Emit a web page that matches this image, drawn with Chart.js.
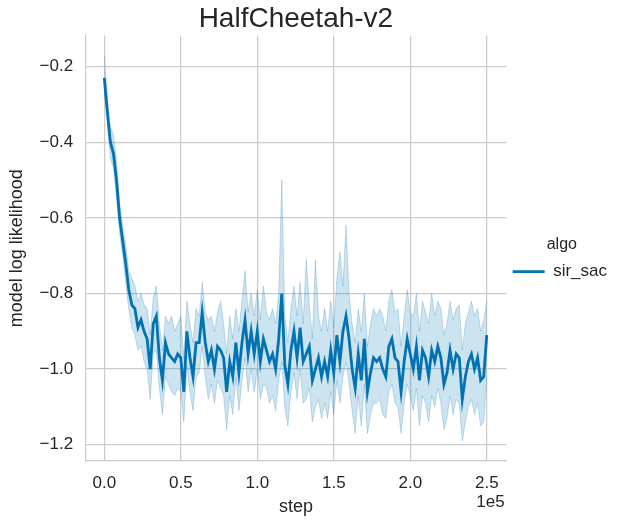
<!DOCTYPE html>
<html>
<head>
<meta charset="utf-8">
<script src="https://cdn.jsdelivr.net/npm/chart.js@4"></script>
<style>
  html, body { margin: 0; padding: 0; background: #fff; }
</style>
</head>
<body>
<canvas id="chart" width="619" height="521"></canvas>
<script>
// mean model log likelihood, one value every 2000 steps
const meanLL = [
  -0.23, -0.32, -0.40, -0.43, -0.50, -0.60, -0.66, -0.72, -0.79, -0.83,
  -0.84, -0.89, -0.87, -0.90, -0.92, -1.00, -0.88, -0.86, -0.97, -1.03,
  -0.93, -0.96, -0.97, -0.98, -0.96, -0.97, -1.06, -0.90, -0.97, -1.02,
  -0.93, -0.93, -0.85, -0.93, -0.98, -0.95, -1.00, -0.94, -0.95, -0.97,
  -1.06, -0.98, -1.02, -0.93, -1.01, -0.93, -0.87, -0.96, -0.90, -0.96,
  -0.90, -0.98, -0.92, -0.95, -0.98, -0.96, -1.00, -0.92, -0.80, -0.99,
  -1.04, -0.95, -0.90, -0.97, -0.89, -0.98, -0.96, -0.94, -1.03, -1.00,
  -0.97, -1.02, -0.98, -1.02, -0.95, -1.01, -0.91, -0.98, -0.90, -0.86,
  -0.92, -1.00, -1.05, -0.96, -1.03, -0.92, -1.06, -1.01, -0.97, -0.98,
  -0.97, -1.00, -1.02, -0.94, -0.92, -0.97, -0.98, -1.06, -0.98, -0.92,
  -0.96, -1.00, -0.94, -1.03, -0.95, -0.97, -1.02, -0.95, -0.98, -0.94,
  -0.97, -1.04, -1.01, -0.95, -1.00, -0.96, -0.97, -1.08, -1.02, -0.98,
  -0.96, -1.00, -0.97, -1.03, -1.02, -0.91
];
// upper edge of the confidence band
const upperLL = [
  -0.17, -0.28, -0.36, -0.38, -0.45, -0.56, -0.62, -0.67, -0.74, -0.76,
  -0.78, -0.82, -0.80, -0.83, -0.84, -0.91, -0.81, -0.78, -0.88, -0.95,
  -0.86, -0.88, -0.86, -0.90, -0.88, -0.86, -0.97, -0.82, -0.88, -0.93,
  -0.84, -0.86, -0.77, -0.85, -0.87, -0.86, -0.90, -0.85, -0.82, -0.88,
  -0.96, -0.86, -0.92, -0.84, -0.90, -0.82, -0.74, -0.85, -0.80, -0.86,
  -0.79, -0.87, -0.78, -0.85, -0.87, -0.84, -0.88, -0.80, -0.50, -0.86,
  -0.93, -0.84, -0.78, -0.86, -0.77, -0.88, -0.71, -0.83, -0.92, -0.71,
  -0.86, -0.90, -0.84, -0.90, -0.82, -0.89, -0.76, -0.69, -0.78, -0.62,
  -0.80, -0.88, -0.93, -0.84, -0.90, -0.80, -0.94, -0.88, -0.84, -0.86,
  -0.84, -0.86, -0.90, -0.82, -0.79, -0.85, -0.84, -0.94, -0.86, -0.79,
  -0.85, -0.86, -0.80, -0.90, -0.82, -0.85, -0.88, -0.80, -0.86, -0.82,
  -0.84, -0.91, -0.88, -0.82, -0.87, -0.84, -0.83, -0.95, -0.88, -0.85,
  -0.82, -0.86, -0.84, -0.90, -0.87, -0.82
];
// lower edge of the confidence band
const lowerLL = [
  -0.26, -0.35, -0.44, -0.47, -0.55, -0.64, -0.70, -0.77, -0.84, -0.89,
  -0.91, -0.95, -0.94, -0.98, -1.00, -1.08, -0.96, -0.95, -1.05, -1.12,
  -1.02, -1.04, -1.06, -1.07, -1.05, -1.06, -1.14, -0.99, -1.06, -1.11,
  -1.02, -1.01, -0.94, -1.02, -1.08, -1.04, -1.09, -1.03, -1.05, -1.07,
  -1.16, -1.07, -1.12, -1.02, -1.11, -1.03, -0.97, -1.06, -1.00, -1.06,
  -1.00, -1.08, -1.04, -1.05, -1.09, -1.07, -1.11, -1.03, -0.98, -1.10,
  -1.15, -1.06, -1.01, -1.08, -1.00, -1.09, -1.08, -1.05, -1.14, -1.10,
  -1.08, -1.13, -1.09, -1.13, -1.06, -1.12, -1.03, -1.09, -1.02, -0.98,
  -1.04, -1.11, -1.17, -1.07, -1.15, -1.04, -1.17, -1.12, -1.09, -1.09,
  -1.08, -1.12, -1.13, -1.06, -1.04, -1.09, -1.10, -1.17, -1.09, -1.04,
  -1.07, -1.11, -1.05, -1.15, -1.07, -1.09, -1.14, -1.07, -1.10, -1.05,
  -1.09, -1.16, -1.13, -1.07, -1.12, -1.08, -1.09, -1.19, -1.14, -1.10,
  -1.08, -1.12, -1.09, -1.15, -1.14, -1.02
];
const steps = meanLL.map((_, i) => i * 2000);
const xTicks = [0, 50000, 100000, 150000, 200000, 250000];
const yTicks = [-1.2, -1.0, -0.8, -0.6, -0.4, -0.2];

const blue = '#0173b2';
const band = 'rgba(1, 115, 178, 0.2)';
const bandEdge = 'rgba(1, 115, 178, 0.22)';
const textColor = '#262626';
const gridColor = '#cccccc';
const family = '"Liberation Sans", Arial, sans-serif';

Chart.defaults.font.family = family;
Chart.defaults.color = textColor;

const pts = arr => arr.map((v, i) => ({ x: steps[i], y: v }));

// matplotlib-style offset text under the right end of the x axis
const offsetText = {
  id: 'offsetText',
  afterDraw(chart) {
    const { ctx, chartArea } = chart;
    ctx.save();
    ctx.font = '17px ' + family;
    ctx.fillStyle = textColor;
    ctx.textAlign = 'right';
    ctx.textBaseline = 'middle';
    ctx.fillText('1e5', chartArea.right - 2, 502);
    ctx.restore();
  }
};

new Chart(document.getElementById('chart').getContext('2d'), {
  type: 'line',
  data: {
    datasets: [
      {
        label: 'sir_sac',
        data: pts(meanLL),
        borderColor: blue,
        backgroundColor: blue,
        borderWidth: 2.8,
        pointRadius: 0,
        fill: false
      },
      {
        label: 'upper',
        data: pts(upperLL),
        borderColor: bandEdge,
        borderWidth: 1,
        pointRadius: 0,
        backgroundColor: band,
        fill: '+1'
      },
      {
        label: 'lower',
        data: pts(lowerLL),
        borderColor: bandEdge,
        borderWidth: 1,
        pointRadius: 0,
        fill: false
      }
    ]
  },
  options: {
    responsive: false,
    animation: false,
    layout: { padding: { left: 0, right: 2, top: 0, bottom: 3 } },
    plugins: {
      title: {
        display: true,
        text: 'HalfCheetah-v2',
        fullSize: false,
        color: textColor,
        font: { size: 28, weight: 'normal' },
        padding: { top: 2, bottom: 0 }
      },
      legend: {
        position: 'right',
        title: {
          display: true,
          text: 'algo',
          color: textColor,
          font: { size: 16 },
          padding: { top: 5, bottom: 1 }
        },
        labels: {
          filter: item => item.text === 'sir_sac',
          usePointStyle: true,
          pointStyle: 'line',
          pointStyleWidth: 32,
          color: textColor,
          font: { size: 17 },
          padding: 6
        }
      },
      tooltip: { enabled: false }
    },
    scales: {
      x: {
        type: 'linear',
        min: -12500,
        max: 263000,
        afterBuildTicks: scale => { scale.ticks = xTicks.map(v => ({ value: v })); },
        ticks: {
          callback: v => (v / 1e5).toFixed(1),
          font: { size: 17 },
          color: textColor,
          padding: 12,
          maxRotation: 0
        },
        grid: { color: gridColor, lineWidth: 1.25, drawTicks: false },
        border: { color: gridColor, width: 1.25 },
        title: {
          display: true,
          text: 'step',
          color: textColor,
          font: { size: 18 },
          padding: { top: -9, bottom: 0 }
        }
      },
      y: {
        type: 'linear',
        min: -1.243,
        max: -0.118,
        afterBuildTicks: scale => { scale.ticks = yTicks.map(v => ({ value: v })); },
        ticks: {
          callback: v => (v < 0 ? '\u2212' : '') + Math.abs(v).toFixed(1),
          font: { size: 17 },
          color: textColor,
          padding: 12
        },
        grid: { color: gridColor, lineWidth: 1.25, drawTicks: false },
        border: { color: gridColor, width: 1.25 },
        title: {
          display: true,
          text: 'model log likelihood',
          color: textColor,
          font: { size: 18 },
          padding: { top: 6, bottom: 0 }
        }
      }
    }
  },
  plugins: [offsetText]
});
</script>
</body>
</html>
